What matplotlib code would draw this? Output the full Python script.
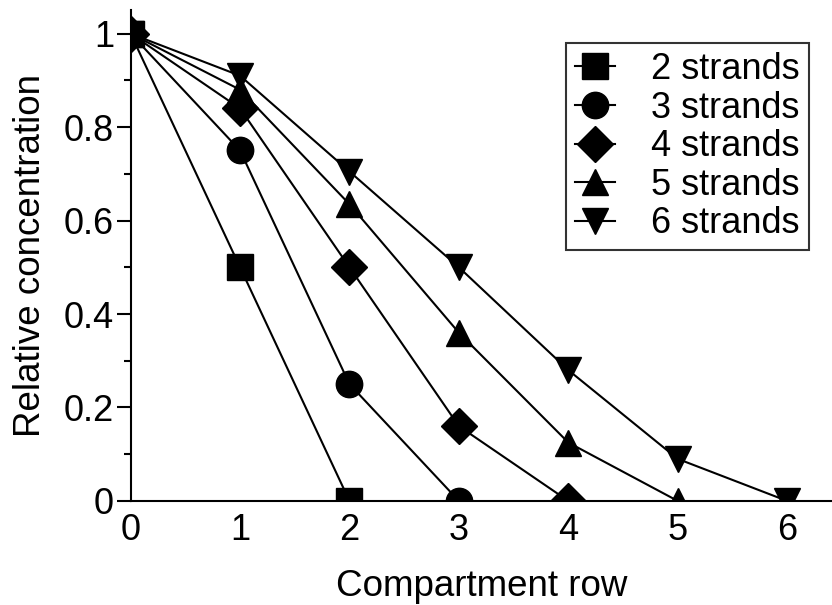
import matplotlib.pyplot as plt
from matplotlib.ticker import MultipleLocator

plt.rcParams['font.family'] = ['Liberation Sans', 'DejaVu Sans']

# Data
x2 = [0, 1, 2]
y2 = [1, 0.5, 0]
x3 = [0, 1, 2, 3]
y3 = [1, 0.75, 0.25, 0]
x4 = [0, 1, 2, 3, 4]
y4 = [1, 0.84, 0.5, 0.16, 0]
x5 = [0, 1, 2, 3, 4, 5]
y5 = [1, 0.88, 0.635, 0.36, 0.125, 0]
x6 = [0, 1, 2, 3, 4, 5, 6]
y6 = [1, 0.91, 0.705, 0.5, 0.28, 0.09, 0]

labels = ['2 strands', '3 strands', '4 strands', '5 strands', '6 strands']

fig = plt.figure(figsize=(8.32, 6.05), dpi=100)
ax = fig.add_axes([0.157, 0.172, 0.843, 0.811])

series = [(x2, y2, 's', 19), (x3, y3, 'o', 19), (x4, y4, 'D', 18),
          (x5, y5, '^', 19), (x6, y6, 'v', 19)]
for (xs, ys, m, ms), lab in zip(series, labels):
    ax.plot(xs, ys, color='black', lw=1.5, marker=m, markersize=ms,
            markerfacecolor='black', markeredgecolor='black', label=lab)

ax.set_xlim(0, 6.41)
ax.set_ylim(0, 1.05)
ax.set_xticks(range(7))
ax.set_yticks([0, 0.2, 0.4, 0.6, 0.8, 1])
ax.set_yticklabels(['0', '0.2', '0.4', '0.6', '0.8', '1'])
ax.yaxis.set_minor_locator(MultipleLocator(0.1))

for s in ['top', 'right']:
    ax.spines[s].set_visible(False)
for s in ['left', 'bottom']:
    ax.spines[s].set_linewidth(1.5)

ax.tick_params(axis='y', which='major', direction='out', length=10, width=1.5,
               labelsize=26, pad=2)
ax.tick_params(axis='y', which='minor', direction='out', length=5, width=1.5)
ax.tick_params(axis='x', which='both', length=0, labelsize=26, pad=9)

ax.set_xlabel('Compartment row', fontsize=26.5, labelpad=15)
ax.set_ylabel('Relative concentration', fontsize=26.5, labelpad=11)

leg = ax.legend(loc='upper right', bbox_to_anchor=(0.972, 0.929),
                bbox_transform=fig.transFigure, fontsize=26, frameon=True,
                fancybox=False, handlelength=1.1, handletextpad=1.0,
                labelspacing=0.1, borderpad=0.25, borderaxespad=0)
leg.get_frame().set_edgecolor('black')
leg.get_frame().set_linewidth(1.5)

plt.savefig('out.png', dpi=100)
